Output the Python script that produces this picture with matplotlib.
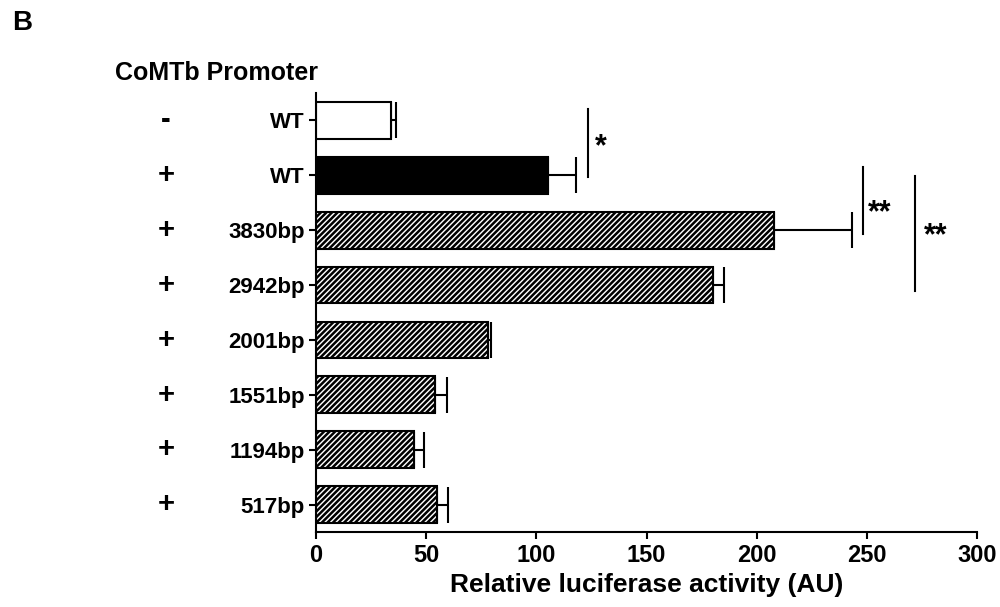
import matplotlib
matplotlib.use('Agg')
import matplotlib.pyplot as plt
import matplotlib.transforms as mtransforms

plt.rcParams['font.family'] = ['Liberation Sans', 'DejaVu Sans']
plt.rcParams['font.weight'] = 'bold'
plt.rcParams['hatch.linewidth'] = 1.8

# construct, promoter present, mean activity and SEM
constructs = ['WT', 'WT', '3830bp', '2942bp', '2001bp', '1551bp', '1194bp', '517bp']
promoter = ['-', '+', '+', '+', '+', '+', '+', '+']
activity = [33.9, 105.3, 208.0, 180.3, 78.2, 54.0, 44.6, 54.9]
sem = [2.3, 12.7, 35.2, 5.0, 1.2, 5.6, 4.3, 5.2]

# significance brackets: x position, y span (row units), label, label position
sig_x = [123.3, 248.4, 272.0]
sig_y0 = [-0.2, 0.85, 1.02]
sig_y1 = [1.04, 2.07, 3.10]
sig_text = ['*', '**', '**']
sig_text_x = [126.5, 250.5, 276.0]
sig_text_y = [0.64, 1.83, 2.26]

faces = ['white', 'black'] + ['white'] * 6
hatches = ['', ''] + ['//////'] * 6

fig = plt.figure(figsize=(10, 6.07), dpi=100)
ax = fig.add_axes([0.316, 0.1236, 0.661, 0.7232])

rows = list(range(len(constructs)))
for i in rows:
    ax.barh(i, activity[i], height=0.67, color=faces[i], edgecolor='black',
            linewidth=1.5, hatch=hatches[i], zorder=2)
ax.errorbar(activity, rows, xerr=[[0] * len(sem), sem], fmt='none',
            ecolor='black', elinewidth=1.5, capsize=13, capthick=1.5, zorder=1)

for x, y0, y1, t, tx, ty in zip(sig_x, sig_y0, sig_y1, sig_text, sig_text_x, sig_text_y):
    ax.plot([x, x], [y0, y1], color='black', lw=1.5, clip_on=False)
    ax.text(tx, ty, t, fontsize=22, fontweight='bold', ha='left', va='baseline')

ax.set_xlim(0, 300)
ax.set_ylim(7.5, -0.5)
ax.set_xticks([0, 50, 100, 150, 200, 250, 300])
ax.set_yticks(rows)
ax.set_yticklabels(constructs)
ax.tick_params(axis='x', labelsize=17, width=1.5, length=5, pad=4)
ax.tick_params(axis='y', labelsize=16, width=1.5, length=5, pad=3)
for lab in ax.get_xticklabels() + ax.get_yticklabels():
    lab.set_fontweight('bold')
for side in ['top', 'right']:
    ax.spines[side].set_visible(False)
for side in ['left', 'bottom']:
    ax.spines[side].set_linewidth(1.5)
ax.set_xlabel('Relative luciferase activity (AU)', fontsize=19, fontweight='bold', labelpad=4)

# promoter +/- column
trans = mtransforms.blended_transform_factory(fig.transFigure, ax.transData)
for i, s in enumerate(promoter):
    ax.text(0.166, i - 0.06, s, transform=trans, fontsize=21, fontweight='bold',
            ha='center', va='center_baseline')

fig.text(0.318, 1 - 72.5 / 607, 'CoMTb Promoter', fontsize=18, fontweight='bold',
         ha='right', va='center')
fig.text(0.012, 1 - 23 / 607, 'B', fontsize=20, fontweight='bold', ha='left', va='center')

fig.savefig('out.png', dpi=100, facecolor='white')
